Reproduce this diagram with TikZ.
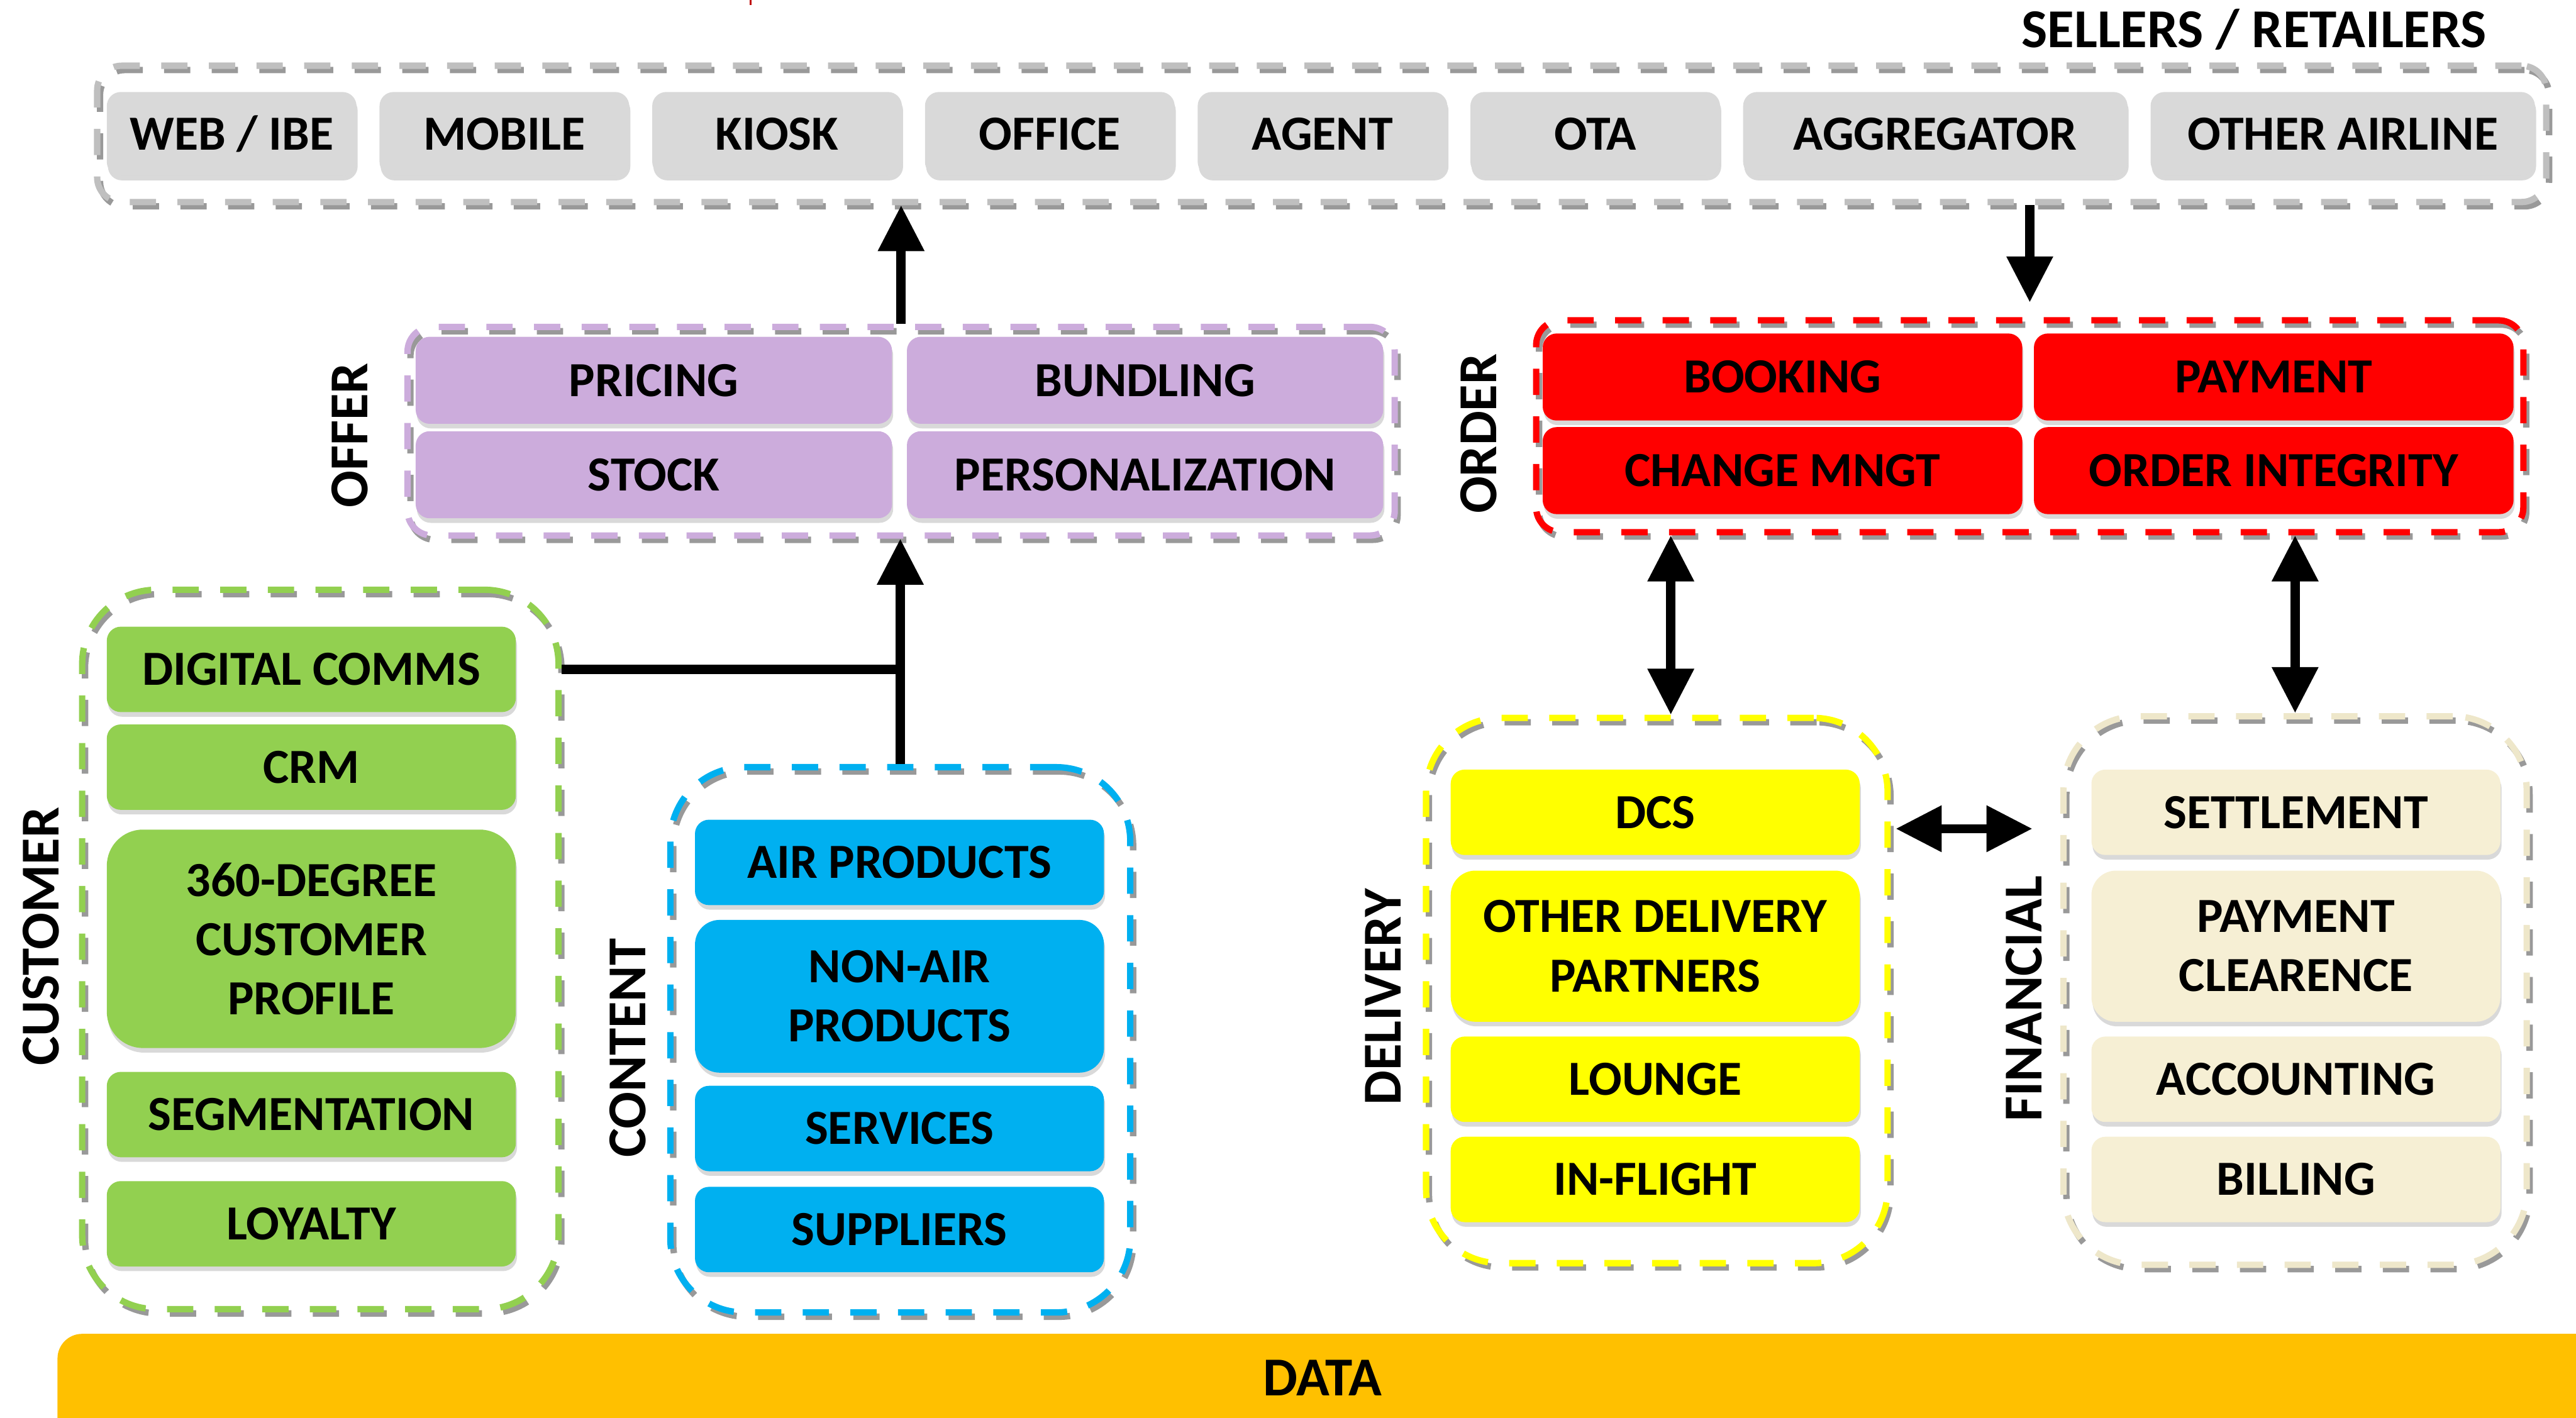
\documentclass[tikz,border=0pt]{standalone}
\usepackage{fontspec}
\setmainfont{Carlito}
\usetikzlibrary{arrows.meta,shadows}
\definecolor{chgray}{RGB}{217,217,217}
\definecolor{chdash}{RGB}{191,191,191}
\definecolor{offerpurple}{RGB}{204,172,220}
\definecolor{orderred}{RGB}{255,0,0}
\definecolor{custgreen}{RGB}{146,208,80}
\definecolor{contblue}{RGB}{0,176,240}
\definecolor{delyellow}{RGB}{255,255,0}
\definecolor{fincream}{RGB}{246,239,212}
\definecolor{finedge}{RGB}{238,231,202}
\definecolor{dataorange}{RGB}{255,192,0}
\begin{document}
\begin{tikzpicture}[x=0.02cm, y=-0.02cm,
  box/.style={fill=#1, rounded corners=0.17cm, inner sep=0pt, minimum height=1.04cm, minimum width=4.98cm, align=center, font=\bfseries\fontsize{17}{20.5}\selectfont, drop shadow={shadow xshift=0.4pt, shadow yshift=-1.6pt, opacity=0.3}},
  frame/.style={draw=#1, line width=2.2pt, dash pattern=on 0.32cm off 0.26cm, rounded corners=0.9cm, inner sep=0pt, preaction={draw=black!40, transform canvas={shift={(1pt,-1.5pt)}}}},
  tag/.style={font=\bfseries\fontsize{19}{23}\selectfont},
  arr/.style={line width=3.2pt, -{Triangle[length=0.56cm, width=0.54cm]}},
  dbl/.style={line width=3.2pt, {Triangle[length=0.56cm, width=0.54cm]}-{Triangle[length=0.56cm, width=0.54cm]}}]
\useasboundingbox (0,0) rectangle (1568,863);
\draw[red!75!black, line width=0.6pt] (457,0) -- (457,3);
\fill[dataorange, rounded corners=0.3cm] (35,812) rectangle (1600,900);
\node[tag] (data) at (805,839) {DATA};

\node[frame=chdash, rounded corners=0.3cm, minimum width=29.82cm, minimum height=1.66cm] (sellers) at (804.5,81.5) {};
\node[tag] (sellerstag) at (1372,18) {SELLERS / RETAILERS};
\node[box=chgray, minimum width=3.04cm, minimum height=1.02cm] (web) at (141,81.5) {WEB / IBE};
\node[box=chgray, minimum width=3.04cm, minimum height=1.02cm] (mobile) at (307,81.5) {MOBILE};
\node[box=chgray, minimum width=3.04cm, minimum height=1.02cm] (kiosk) at (473,81.5) {KIOSK};
\node[box=chgray, minimum width=3.04cm, minimum height=1.02cm] (office) at (639,81.5) {OFFICE};
\node[box=chgray, minimum width=3.04cm, minimum height=1.02cm] (agent) at (805,81.5) {AGENT};
\node[box=chgray, minimum width=3.04cm, minimum height=1.02cm] (ota) at (971,81.5) {OTA};
\node[box=chgray, minimum width=4.68cm, minimum height=1.02cm] (aggregator) at (1178,81.5) {AGGREGATOR};
\node[box=chgray, minimum width=4.68cm, minimum height=1.02cm] (otherair) at (1426,81.5) {OTHER AIRLINE};

\node[frame=offerpurple, rounded corners=0.3cm, minimum width=12.02cm, minimum height=2.54cm] (offer) at (548.5,262.5) {};
\node[tag, rotate=90] (offertag) at (213,265) {OFFER};
\node[box=offerpurple, minimum width=5.8cm, minimum height=1.06cm] (pricing) at (398,231.5) {PRICING};
\node[box=offerpurple, minimum width=5.8cm, minimum height=1.06cm] (bundling) at (697,231.5) {BUNDLING};
\node[box=offerpurple, minimum width=5.8cm, minimum height=1.06cm] (stock) at (398,289) {STOCK};
\node[box=offerpurple, minimum width=5.8cm, minimum height=1.06cm] (personal) at (697,289) {PERSONALIZATION};

\node[frame=orderred, rounded corners=0.3cm, minimum width=12.02cm, minimum height=2.58cm] (order) at (1235.5,259.5) {};
\node[tag, rotate=90] (ordertag) at (900,264) {ORDER};
\node[box=orderred, minimum width=5.84cm, minimum height=1.06cm] (booking) at (1085,229.5) {BOOKING};
\node[box=orderred, minimum width=5.84cm, minimum height=1.06cm] (payment) at (1384,229.5) {PAYMENT};
\node[box=orderred, minimum width=5.84cm, minimum height=1.06cm] (change) at (1085,286.5) {CHANGE MNGT};
\node[box=orderred, minimum width=5.84cm, minimum height=1.06cm] (integrity) at (1384,286.5) {ORDER INTEGRITY};

\node[frame=custgreen, minimum width=5.8cm, minimum height=8.76cm] (customer) at (195,578) {};
\node[tag, rotate=90] (customertag) at (25,570) {CUSTOMER};
\node[box=custgreen] (dcomms) at (189.5,407.5) {DIGITAL COMMS};
\node[box=custgreen] (crm) at (189.5,467) {CRM};
\node[box=custgreen, rounded corners=0.44cm, minimum height=2.66cm] (profile) at (189.5,571.5) {360-DEGREE\\CUSTOMER\\PROFILE};
\node[box=custgreen] (segment) at (189.5,678.5) {SEGMENTATION};
\node[box=custgreen] (loyalty) at (189.5,745) {LOYALTY};

\node[frame=contblue, minimum width=5.6cm, minimum height=6.64cm] (content) at (548,633) {};
\node[tag, rotate=90] (contenttag) at (382,638) {CONTENT};
\node[box=contblue] (airprod) at (547.5,525) {AIR PRODUCTS};
\node[box=contblue, rounded corners=0.3cm, minimum height=1.86cm] (nonair) at (547.5,606.5) {NON-AIR\\PRODUCTS};
\node[box=contblue] (services) at (547.5,687) {SERVICES};
\node[box=contblue] (suppliers) at (547.5,748.5) {SUPPLIERS};

\node[frame=delyellow, minimum width=5.62cm, minimum height=6.64cm] (delivery) at (1008.5,603) {};
\node[tag, rotate=90] (deliverytag) at (842,607) {DELIVERY};
\node[box=delyellow] (dcs) at (1007.5,494.5) {DCS};
\node[box=delyellow, rounded corners=0.3cm, minimum height=1.84cm] (otherdel) at (1007.5,576) {OTHER DELIVERY\\PARTNERS};
\node[box=delyellow] (lounge) at (1007.5,657) {LOUNGE};
\node[box=delyellow] (inflight) at (1007.5,718) {IN-FLIGHT};

\node[frame=finedge, minimum width=5.64cm, minimum height=6.68cm] (financial) at (1397,603) {};
\node[tag, rotate=90] (financialtag) at (1232,608) {FINANCIAL};
\node[box=fincream] (settle) at (1397.5,494.5) {SETTLEMENT};
\node[box=fincream, rounded corners=0.3cm, minimum height=1.84cm] (payclear) at (1397.5,576) {PAYMENT\\CLEARENCE};
\node[box=fincream] (accounting) at (1397.5,657) {ACCOUNTING};
\node[box=fincream] (billing) at (1397.5,718) {BILLING};

\draw[arr] (offer.north) -- (offer.north |- sellers.south);
\draw[arr] (content.north) -- (content.north |- offer.south);
\coordinate (cjoin) at (content.north |- dcomms.east);
\draw[line width=3.2pt] (customer.east |- cjoin) -- (cjoin);
\draw[arr, shorten >=0.18cm] (order.north |- sellers.south) -- (order.north);
\coordinate (dtop) at ([xshift=0.17cm]delivery.north);
\draw[dbl] (dtop) -- (dtop |- order.south);
\draw[dbl] (financial.north) -- (financial.north |- order.south);
\coordinate (dfy) at ([yshift=-0.2cm]dcs.east);
\draw[dbl, shorten >=0.34cm, shorten <=0.06cm] (delivery.east |- dfy) -- (financial.west |- dfy);
\end{tikzpicture}
\end{document}
